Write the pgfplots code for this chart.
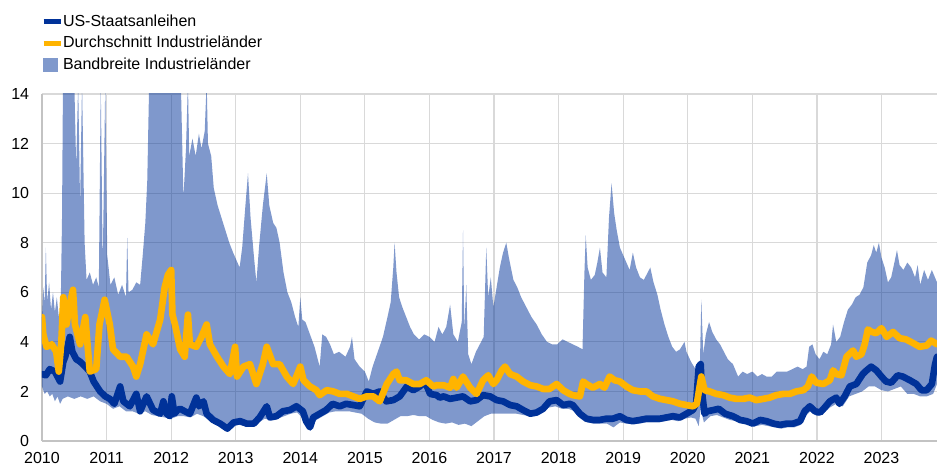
\documentclass[border=0pt]{standalone}
\usepackage{fontspec}
\setmainfont{Liberation Sans}
\usepackage{pgfplots}
\pgfplotsset{compat=1.18}
\usepgfplotslibrary{fillbetween}
\definecolor{usblue}{RGB}{0,50,153}
\definecolor{avgorange}{RGB}{255,180,0}
\definecolor{bandcol}{RGB}{128,153,204}
\definecolor{gridgrey}{RGB}{217,217,217}
\begin{document}
\begin{tikzpicture}
\begin{axis}[
  at={(0,0)}, anchor=south west,
  scale only axis, width=671.25pt, height=260.25pt,
  xmin=2010, xmax=2023.86, ymin=0, ymax=14,
  xtick={2010,2011,...,2023},
  xticklabels={2010,2011,2012,2013,2014,2015,2016,2017,2018,2019,2020,2021,2022,2023},
  ytick={0,2,...,14},
  /pgf/number format/assume math mode=true,
  tick label style={font=\fontsize{12}{14}\selectfont, text=black},
  yticklabel style={anchor=east, inner sep=0pt, xshift=-9.5pt},
  xticklabel style={anchor=north, inner sep=0pt, yshift=-8.3pt},
  major tick length=0pt,
  tick style={draw=none},
  grid=major,
  major grid style={draw=gridgrey, line width=0.9pt},
  axis x line=bottom, axis y line=left,
  axis line style={-, draw=gridgrey!90!black, line width=1.4pt},
  legend style={at={(0,1)}, anchor=south west, xshift=-0.75pt, yshift=16pt,
    draw=none, fill=none, inner sep=0pt, outer sep=0pt,
    font=\fontsize{12}{14}\selectfont, row sep=4.5pt,
    nodes={inner sep=0pt, text height=9pt, text depth=2.6pt},
    /tikz/every even column/.append style={column sep=4.5pt}},
  legend cell align=left,
]
\addlegendimage{legend image code/.code={\draw[usblue, line width=3.75pt] (0pt,0pt) -- (12.75pt,0pt);}}
\addlegendentry{US-Staatsanleihen}
\addlegendimage{legend image code/.code={\draw[avgorange, line width=3.75pt] (0pt,0pt) -- (12.75pt,0pt);}}
\addlegendentry{Durchschnitt Industrieländer}
\addlegendimage{legend image code/.code={\fill[bandcol] (0pt,-4.9pt) rectangle (10.5pt,4.9pt);}}
\addlegendentry{Bandbreite Industrieländer}

% upper bound of band
\addplot[name path=U, draw=none, forget plot] coordinates {
(2010.00,5.0)(2010.02,6.2)(2010.04,5.5)(2010.06,7.8)(2010.08,5.6)(2010.11,6.4)(2010.14,5.3)(2010.17,6.0)
(2010.20,5.2)(2010.23,5.8)(2010.26,5.0)(2010.29,5.4)(2010.31,9.0)(2010.325,14.5)(2010.50,14.5)(2010.53,11)
(2010.56,14.5)(2010.59,9.5)(2010.62,14.5)(2010.66,8.0)(2010.69,6.5)(2010.74,6.8)(2010.79,6.3)(2010.84,6.6)
(2010.88,6.2)(2010.91,14.5)(2010.94,7.0)(2010.98,14.5)(2011.01,7.5)(2011.06,6.3)(2011.12,6.6)(2011.18,5.9)
(2011.24,6.3)(2011.30,5.8)(2011.32,8.2)(2011.34,6.0)(2011.40,6.1)(2011.46,6.4)(2011.52,6.3)(2011.56,7.5)
(2011.60,8.8)(2011.63,10.5)(2011.66,14.5)(2012.15,14.5)(2012.19,9.8)(2012.23,11.8)(2012.26,14.5)(2012.28,11.5)
(2012.33,12.2)(2012.38,11.5)(2012.43,12.4)(2012.47,11.8)(2012.52,12.5)(2012.55,14.5)(2012.57,12.0)(2012.62,11.5)
(2012.66,10.2)(2012.72,9.5)(2012.78,9.0)(2012.84,8.5)(2012.90,8.0)(2012.96,7.6)(2013.01,7.3)(2013.06,7.0)
(2013.10,7.8)(2013.15,9.5)(2013.19,10.8)(2013.23,9.0)(2013.28,7.5)(2013.32,6.4)(2013.36,7.8)(2013.42,9.5)
(2013.48,10.8)(2013.52,9.5)(2013.58,8.8)(2013.63,8.6)(2013.68,8.0)(2013.74,6.8)(2013.80,6.0)(2013.86,5.6)
(2013.92,5.0)(2013.97,4.6)(2014.00,5.8)(2014.03,4.9)(2014.08,4.8)(2014.15,4.3)(2014.22,3.8)(2014.30,3.0)
(2014.34,4.3)(2014.40,4.2)(2014.46,3.9)(2014.52,3.5)(2014.60,3.6)(2014.70,3.4)(2014.77,3.8)(2014.80,4.2)
(2014.84,3.3)(2014.92,3.0)(2015.00,2.8)(2015.06,2.4)(2015.12,3.0)(2015.20,3.6)(2015.28,4.2)(2015.35,5.0)
(2015.40,5.6)(2015.44,7.0)(2015.46,8.0)(2015.49,6.8)(2015.53,5.8)(2015.58,5.4)(2015.64,5.0)(2015.70,4.6)
(2015.76,4.3)(2015.84,4.1)(2015.92,4.3)(2016.00,4.2)(2016.08,4.0)(2016.14,4.6)(2016.20,4.3)(2016.26,4.6)
(2016.32,5.5)(2016.37,4.3)(2016.44,4.0)(2016.50,4.8)(2016.52,8.5)(2016.54,4.5)(2016.57,6.3)(2016.60,3.5)
(2016.65,3.1)(2016.72,3.6)(2016.78,3.9)(2016.84,4.2)(2016.88,7.8)(2016.91,5.8)(2016.95,6.6)(2016.99,5.4)
(2017.04,6.2)(2017.09,7.0)(2017.14,7.6)(2017.19,8.0)(2017.23,7.4)(2017.30,6.5)(2017.36,6.2)(2017.42,5.8)
(2017.50,5.4)(2017.58,5.0)(2017.66,4.7)(2017.74,4.3)(2017.82,4.0)(2017.90,3.9)(2017.98,3.9)(2018.06,4.1)
(2018.14,4.0)(2018.22,3.9)(2018.30,3.8)(2018.37,3.7)(2018.40,6.8)(2018.42,8.3)(2018.45,7.0)(2018.50,6.5)
(2018.56,6.7)(2018.60,7.2)(2018.64,7.8)(2018.68,6.8)(2018.74,6.6)(2018.78,9.0)(2018.82,10.4)(2018.86,9.2)
(2018.90,8.5)(2018.95,7.8)(2019.00,7.5)(2019.05,7.2)(2019.10,6.9)(2019.15,7.6)(2019.20,7.0)(2019.26,6.6)
(2019.32,6.5)(2019.38,6.8)(2019.42,7.0)(2019.47,6.4)(2019.53,5.9)(2019.58,5.3)(2019.64,4.7)(2019.70,4.2)
(2019.76,3.8)(2019.82,3.6)(2019.88,3.7)(2019.95,4.0)(2019.98,3.6)(2020.05,3.2)(2020.12,2.9)(2020.18,2.1)
(2020.21,5.7)(2020.24,3.5)(2020.28,4.3)(2020.33,4.8)(2020.38,4.4)(2020.44,4.1)(2020.50,3.9)(2020.56,3.6)
(2020.62,3.3)(2020.70,3.1)(2020.78,2.6)(2020.85,2.8)(2020.92,2.7)(2021.00,2.8)(2021.08,2.6)(2021.15,2.7)
(2021.22,2.6)(2021.30,2.6)(2021.38,2.8)(2021.46,2.8)(2021.54,2.8)(2021.62,2.9)(2021.70,3.0)(2021.78,2.9)
(2021.84,3.0)(2021.88,3.8)(2021.93,3.9)(2021.98,3.5)(2022.04,3.3)(2022.10,3.6)(2022.16,3.5)(2022.22,3.9)
(2022.25,4.7)(2022.30,4.0)(2022.36,4.2)(2022.42,4.8)(2022.48,5.3)(2022.54,5.5)(2022.60,5.8)(2022.66,5.9)
(2022.72,6.2)(2022.78,7.2)(2022.84,7.5)(2022.88,7.9)(2022.92,7.6)(2022.96,8.0)(2023.00,7.4)(2023.05,7.0)
(2023.10,6.4)(2023.15,6.6)(2023.20,7.2)(2023.24,7.7)(2023.28,7.1)(2023.34,6.9)(2023.40,7.2)(2023.46,7.0)
(2023.52,6.6)(2023.56,7.1)(2023.60,6.3)(2023.66,6.9)(2023.72,6.5)(2023.78,6.9)(2023.86,6.4)
};
% lower bound of band
\addplot[name path=L, draw=none, forget plot] coordinates {
(2010.00,2.2)(2010.04,1.9)(2010.08,2.0)(2010.12,1.8)(2010.16,1.9)(2010.20,1.6)(2010.24,1.8)(2010.28,1.5)
(2010.32,1.7)(2010.40,1.8)(2010.50,1.7)(2010.60,1.8)(2010.70,1.7)(2010.80,1.8)(2010.90,1.6)(2011.00,1.5)
(2011.10,1.3)(2011.20,1.4)(2011.30,1.2)(2011.40,1.2)(2011.50,1.1)(2011.60,1.2)(2011.70,1.05)(2011.80,1.0)
(2011.90,0.95)(2012.00,0.9)(2012.10,1.0)(2012.20,1.0)(2012.30,0.95)(2012.40,1.1)(2012.50,1.0)(2012.60,0.8)
(2012.70,0.65)(2012.80,0.55)(2012.87,0.45)(2012.95,0.6)(2013.05,0.65)(2013.15,0.6)(2013.25,0.6)(2013.35,0.75)
(2013.45,0.9)(2013.55,0.85)(2013.65,0.9)(2013.75,1.0)(2013.85,1.1)(2013.95,1.15)(2014.05,0.9)(2014.15,0.45)
(2014.25,0.85)(2014.35,1.0)(2014.45,1.15)(2014.55,1.2)(2014.65,1.2)(2014.75,1.2)(2014.85,1.15)(2014.95,1.1)
(2015.05,0.9)(2015.15,0.75)(2015.25,0.7)(2015.35,0.7)(2015.45,0.85)(2015.55,1.0)(2015.65,1.0)(2015.75,1.05)
(2015.85,1.0)(2015.95,1.0)(2016.05,0.85)(2016.15,0.75)(2016.25,0.7)(2016.35,0.75)(2016.45,0.65)(2016.55,0.7)
(2016.65,0.6)(2016.75,0.8)(2016.85,1.0)(2016.95,1.1)(2017.05,1.1)(2017.15,1.1)(2017.25,1.1)(2017.35,1.1)
(2017.45,1.05)(2017.55,1.0)(2017.65,1.05)(2017.75,1.2)(2017.85,1.35)(2017.95,1.4)(2018.05,1.3)(2018.15,1.3)
(2018.25,1.2)(2018.35,0.95)(2018.45,0.75)(2018.55,0.7)(2018.65,0.7)(2018.75,0.7)(2018.85,0.55)(2018.95,0.75)
(2019.05,0.7)(2019.15,0.7)(2019.25,0.7)(2019.35,0.75)(2019.45,0.75)(2019.55,0.75)(2019.65,0.8)(2019.75,0.85)
(2019.85,0.8)(2019.95,0.9)(2020.05,0.95)(2020.12,0.9)(2020.17,0.6)(2020.20,1.3)(2020.25,0.75)(2020.35,1.0)
(2020.45,1.05)(2020.55,0.95)(2020.65,0.85)(2020.75,0.8)(2020.85,0.7)(2020.95,0.65)(2021.05,0.6)(2021.15,0.65)
(2021.25,0.6)(2021.35,0.55)(2021.45,0.5)(2021.55,0.55)(2021.65,0.55)(2021.75,0.65)(2021.82,1.0)(2021.90,1.2)
(2022.00,1.0)(2022.10,1.1)(2022.20,1.35)(2022.30,1.5)(2022.40,1.4)(2022.50,1.8)(2022.60,1.9)(2022.70,2.0)
(2022.80,2.2)(2022.90,2.2)(2023.00,2.05)(2023.10,2.0)(2023.20,2.1)(2023.30,2.2)(2023.40,1.9)(2023.50,1.9)
(2023.60,1.8)(2023.70,1.8)(2023.80,1.9)(2023.86,2.3)
};
\addplot[fill=usblue, fill opacity=0.5, draw=none, forget plot] fill between[of=U and L];

% US government bonds
\addplot[usblue, line width=5pt, line join=round, line cap=round, forget plot] coordinates {
(2010.00,2.7)(2010.06,2.65)(2010.12,2.9)(2010.20,2.8)(2010.28,2.4)(2010.33,3.2)(2010.36,3.4)(2010.43,4.2)
(2010.47,3.6)(2010.53,3.3)(2010.59,3.2)(2010.67,3.0)(2010.74,2.8)(2010.80,2.4)(2010.90,2.0)(2010.98,1.8)
(2011.05,1.7)(2011.12,1.5)(2011.21,2.2)(2011.26,1.6)(2011.36,1.4)(2011.46,1.9)(2011.52,1.2)(2011.62,1.8)
(2011.72,1.25)(2011.83,1.1)(2011.88,1.6)(2011.93,1.1)(2011.98,1.0)(2012.01,1.8)(2012.05,1.1)(2012.10,1.25)
(2012.14,1.3)(2012.21,1.2)(2012.29,1.1)(2012.39,1.75)(2012.43,1.4)(2012.50,1.6)(2012.55,1.1)(2012.65,0.85)
(2012.76,0.7)(2012.87,0.5)(2012.97,0.75)(2013.07,0.8)(2013.17,0.7)(2013.28,0.7)(2013.37,0.95)(2013.48,1.4)
(2013.53,0.95)(2013.63,1.0)(2013.73,1.2)(2013.84,1.25)(2013.94,1.4)(2014.04,1.2)(2014.09,0.8)(2014.15,0.55)
(2014.20,0.95)(2014.30,1.1)(2014.40,1.25)(2014.50,1.5)(2014.61,1.4)(2014.71,1.5)(2014.82,1.45)(2014.92,1.4)
(2015.03,2.0)(2015.13,1.9)(2015.23,2.0)(2015.33,1.6)(2015.44,1.65)(2015.54,1.8)(2015.65,2.2)(2015.75,2.05)
(2015.85,2.2)(2015.93,2.4)(2016.01,1.9)(2016.11,1.85)(2016.16,1.75)(2016.22,1.8)(2016.32,1.7)(2016.42,1.75)
(2016.52,1.8)(2016.63,1.6)(2016.73,1.65)(2016.83,1.85)(2016.94,1.8)(2017.04,1.65)(2017.14,1.6)(2017.25,1.45)
(2017.35,1.4)(2017.45,1.25)(2017.56,1.1)(2017.66,1.15)(2017.76,1.3)(2017.86,1.6)(2017.97,1.65)(2018.07,1.45)
(2018.17,1.5)(2018.22,1.45)(2018.33,1.1)(2018.43,0.9)(2018.53,0.85)(2018.64,0.85)(2018.74,0.9)(2018.84,0.9)
(2018.95,1.0)(2019.05,0.85)(2019.15,0.8)(2019.26,0.85)(2019.36,0.9)(2019.46,0.9)(2019.57,0.9)(2019.67,0.95)
(2019.77,1.0)(2019.88,0.95)(2019.98,1.1)(2020.08,1.25)(2020.13,1.5)(2020.17,3.0)(2020.20,3.1)(2020.22,2.0)
(2020.26,1.1)(2020.30,1.2)(2020.40,1.25)(2020.48,1.3)(2020.58,1.1)(2020.70,1.0)(2020.81,0.85)(2020.91,0.8)
(2021.01,0.7)(2021.12,0.85)(2021.22,0.8)(2021.33,0.7)(2021.43,0.65)(2021.53,0.7)(2021.63,0.7)(2021.74,0.8)
(2021.81,1.2)(2021.89,1.4)(2021.97,1.2)(2022.05,1.15)(2022.12,1.35)(2022.20,1.6)(2022.30,1.75)(2022.35,1.5)
(2022.43,1.8)(2022.51,2.2)(2022.61,2.3)(2022.71,2.7)(2022.77,2.85)(2022.84,3.0)(2022.92,2.85)(2023.00,2.6)
(2023.07,2.4)(2023.15,2.35)(2023.25,2.65)(2023.33,2.6)(2023.44,2.45)(2023.54,2.3)(2023.62,2.05)(2023.70,2.05)
(2023.78,2.3)(2023.83,3.1)(2023.86,3.4)
};
% average of industrialised countries
\addplot[avgorange, line width=5pt, line join=round, line cap=round, forget plot] coordinates {
(2010.00,5.0)(2010.02,4.3)(2010.07,3.8)(2010.15,3.9)(2010.22,3.6)(2010.26,2.8)(2010.30,4.0)(2010.33,5.8)
(2010.38,4.7)(2010.43,5.5)(2010.48,6.1)(2010.51,4.7)(2010.59,3.9)(2010.67,5.0)(2010.74,2.8)(2010.84,2.9)
(2010.89,4.7)(2010.97,5.7)(2011.05,4.7)(2011.10,3.7)(2011.21,3.4)(2011.31,3.4)(2011.41,3.0)(2011.46,2.6)
(2011.52,3.1)(2011.62,4.3)(2011.72,3.9)(2011.83,4.9)(2011.90,6.2)(2011.95,6.7)(2012.00,6.9)(2012.02,5.1)
(2012.06,4.7)(2012.14,3.7)(2012.21,3.4)(2012.26,5.1)(2012.29,3.9)(2012.39,3.8)(2012.47,4.2)(2012.55,4.7)
(2012.60,3.9)(2012.71,3.4)(2012.81,3.0)(2012.91,2.7)(2012.99,3.8)(2013.02,2.6)(2013.12,3.0)(2013.22,3.1)
(2013.32,2.3)(2013.42,3.1)(2013.48,3.8)(2013.58,3.1)(2013.68,3.1)(2013.79,2.6)(2013.89,2.3)(2013.97,2.8)
(2014.00,3.0)(2014.05,2.45)(2014.15,2.2)(2014.25,2.05)(2014.30,1.85)(2014.41,2.05)(2014.51,2.0)(2014.61,1.9)
(2014.72,1.9)(2014.82,1.8)(2014.92,1.7)(2015.03,1.8)(2015.13,1.8)(2015.23,1.6)(2015.34,2.3)(2015.44,2.7)
(2015.49,2.8)(2015.54,2.45)(2015.64,2.45)(2015.75,2.3)(2015.85,2.3)(2015.95,2.45)(2016.06,2.2)(2016.11,2.25)
(2016.22,2.25)(2016.32,2.15)(2016.37,2.5)(2016.42,2.15)(2016.52,2.6)(2016.63,2.15)(2016.73,1.9)(2016.83,2.45)
(2016.91,2.65)(2016.99,2.3)(2017.04,2.45)(2017.12,2.85)(2017.17,3.0)(2017.25,2.7)(2017.35,2.6)(2017.45,2.4)
(2017.56,2.25)(2017.66,2.2)(2017.76,2.1)(2017.86,2.1)(2017.97,2.3)(2018.07,2.05)(2018.17,1.9)(2018.22,1.85)
(2018.33,1.8)(2018.38,2.4)(2018.43,2.3)(2018.53,2.15)(2018.64,2.3)(2018.71,2.15)(2018.79,2.6)(2018.87,2.45)
(2018.95,2.4)(2019.05,2.2)(2019.15,2.05)(2019.26,2.0)(2019.36,2.0)(2019.46,1.8)(2019.57,1.7)(2019.67,1.65)
(2019.77,1.6)(2019.88,1.5)(2019.98,1.45)(2020.08,1.4)(2020.14,1.5)(2020.21,2.6)(2020.26,2.05)(2020.34,2.0)
(2020.44,1.9)(2020.55,1.85)(2020.65,1.75)(2020.75,1.7)(2020.86,1.7)(2020.96,1.75)(2021.06,1.65)(2021.17,1.7)
(2021.27,1.75)(2021.37,1.85)(2021.48,1.9)(2021.58,1.9)(2021.68,2.0)(2021.79,2.05)(2021.86,2.2)(2021.92,2.6)
(2021.99,2.35)(2022.10,2.3)(2022.20,2.45)(2022.25,2.85)(2022.30,2.7)(2022.38,2.65)(2022.46,3.4)(2022.56,3.65)
(2022.61,3.4)(2022.69,3.5)(2022.74,3.9)(2022.79,4.5)(2022.85,4.4)(2022.92,4.35)(2023.00,4.55)(2023.08,4.2)
(2023.18,4.4)(2023.28,4.15)(2023.38,4.1)(2023.49,3.95)(2023.59,3.8)(2023.70,3.85)(2023.77,4.05)(2023.86,3.9)
};
\end{axis}
\pgfresetboundingbox
\path[use as bounding box] (-31.5pt,-18.75pt) rectangle (671.25pt,330.75pt);
\end{tikzpicture}
\end{document}
